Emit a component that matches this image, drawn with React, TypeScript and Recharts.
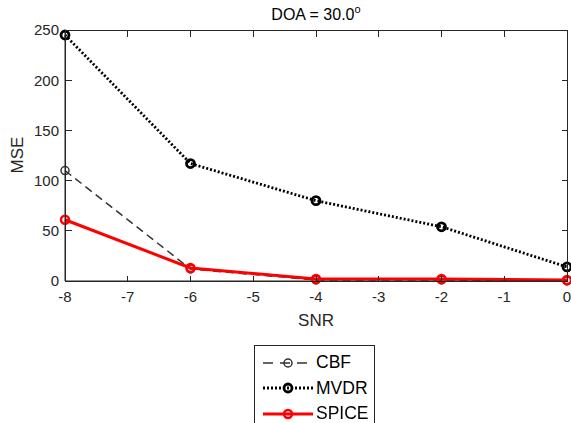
import { LineChart, Line, XAxis, YAxis, Legend } from "recharts";

const SNR = [-8, -6, -4, -2, 0];
const CBF = [110, 12, 1, 1, 0];
const MVDR = [245, 117, 80, 54, 14];
const SPICE = [61, 13, 2, 2, 1];
const X_TICKS = [-8, -7, -6, -5, -4, -3, -2, -1, 0];
const Y_TICKS = [0, 50, 100, 150, 200, 250];
const X_DOMAIN = [-8, 0];
const Y_DOMAIN = [0, 250];

const W = 571;
const H = 423;
const MARGIN = { top: 30, right: 4, bottom: 97, left: 0 };
const Y_AXIS_W = 65;
const X_AXIS_H = 45;
// plot area that recharts gets from the margins above
const PLOT = {
  x: MARGIN.left + Y_AXIS_W,
  y: MARGIN.top,
  w: W - MARGIN.left - MARGIN.right - Y_AXIS_W,
  h: H - MARGIN.top - MARGIN.bottom - X_AXIS_H,
};

const FONT = "'Liberation Sans', Arial, sans-serif";
const AXIS = "#262626";
const TICK = 6;

const SERIES = [
  { key: "CBF", color: "#333333", width: 1.5, dash: "8 5", dotWidth: 1.5 },
  { key: "MVDR", color: "#000000", width: 2.8, dash: "2 2", dotWidth: 2.8 },
  { key: "SPICE", color: "#ff0000", width: 3, dash: undefined, dotWidth: 2.5 },
];

const data = SNR.map((snr, i) => ({
  snr,
  CBF: CBF[i],
  MVDR: MVDR[i],
  SPICE: SPICE[i],
}));

const sx = (v: number) => PLOT.x + ((v - X_DOMAIN[0]) / (X_DOMAIN[1] - X_DOMAIN[0])) * PLOT.w;
const sy = (v: number) => PLOT.y + PLOT.h - ((v - Y_DOMAIN[0]) / (Y_DOMAIN[1] - Y_DOMAIN[0])) * PLOT.h;

// MATLAB-style box with inward ticks on all four sides
function Frame() {
  const top = PLOT.y + 0.5;
  const bottom = PLOT.y + PLOT.h + 0.5;
  const left = PLOT.x + 0.5;
  const right = PLOT.x + PLOT.w + 0.5;
  return (
    <svg
      width={W}
      height={H}
      style={{ position: "absolute", left: 0, top: 0, pointerEvents: "none" }}
    >
      <g stroke={AXIS} strokeWidth={1} fill="none" shapeRendering="crispEdges">
        <rect x={left} y={top} width={right - left} height={bottom - top} />
        {X_TICKS.map((t) => (
          <g key={`x${t}`}>
            <line x1={sx(t)} x2={sx(t)} y1={bottom} y2={bottom - TICK} />
            <line x1={sx(t)} x2={sx(t)} y1={top} y2={top + TICK} />
          </g>
        ))}
        {Y_TICKS.map((t) => (
          <g key={`y${t}`}>
            <line x1={left} x2={left + TICK} y1={sy(t)} y2={sy(t)} />
            <line x1={right} x2={right - TICK} y1={sy(t)} y2={sy(t)} />
          </g>
        ))}
      </g>
    </svg>
  );
}

function LegendBox() {
  return (
    <div
      style={{
        border: "1px solid #262626",
        background: "#fff",
        width: 121,
        height: 90,
        boxSizing: "border-box",
        paddingTop: 4,
        fontFamily: FONT,
        fontSize: 17.5,
        color: "#000",
      }}
    >
      {SERIES.map((s) => (
        <div key={s.key} style={{ display: "flex", alignItems: "center", height: 25.5 }}>
          <svg width={61} height={20} style={{ flex: "none" }}>
            <line
              x1={8}
              x2={58}
              y1={10}
              y2={10}
              stroke={s.color}
              strokeWidth={s.width}
              strokeDasharray={s.dash === "8 5" ? "10 7" : s.dash}
            />
            <circle cx={33} cy={10} r={4} fill="none" stroke={s.color} strokeWidth={s.dotWidth} />
          </svg>
          <span>{s.key}</span>
        </div>
      ))}
    </div>
  );
}

export default function App() {
  return (
    <div style={{ position: "fixed", left: 0, top: 0, width: W, height: H, background: "#fff" }}>
      <LineChart width={W} height={H} data={data} margin={MARGIN}>
        <XAxis
          dataKey="snr"
          type="number"
          domain={X_DOMAIN}
          ticks={X_TICKS}
          height={X_AXIS_H}
          stroke={AXIS}
          tickLine={false}
          tickSize={-6}
          tickMargin={16}
          tick={{ fill: AXIS, fontSize: 15, fontFamily: FONT }}
          label={{
            content: () => (
              <g>
                <text x={316} y={326} textAnchor="middle" fill={AXIS} fontSize={17} fontFamily={FONT}>
                  SNR
                </text>
                <text x={316} y={20} textAnchor="middle" fill="#000" fontSize={16} fontFamily={FONT}>
                  DOA = 30.0
                  <tspan dy={-7} fontSize={11}>o</tspan>
                </text>
              </g>
            ),
          }}
        />
        <YAxis
          type="number"
          domain={Y_DOMAIN}
          ticks={Y_TICKS}
          width={Y_AXIS_W}
          stroke={AXIS}
          tickLine={false}
          tickSize={-6}
          tickMargin={12}
          tick={{ fill: AXIS, fontSize: 15, fontFamily: FONT }}
          label={{
            content: () => (
              <text
                x={19}
                y={155}
                textAnchor="middle"
                fill={AXIS}
                fontSize={17}
                fontFamily={FONT}
                transform="rotate(-90 19 155)"
                dominantBaseline="middle"
              >
                MSE
              </text>
            ),
          }}
        />
        {SERIES.map((s) => (
          <Line
            key={s.key}
            dataKey={s.key}
            stroke={s.color}
            strokeWidth={s.width}
            strokeDasharray={s.dash}
            dot={{ r: 4, fill: "none", stroke: s.color, strokeWidth: s.dotWidth, strokeDasharray: "" }}
            activeDot={false}
            isAnimationActive={false}
          />
        ))}
        <Legend
          layout="horizontal"
          verticalAlign="middle"
          align="center"
          content={() => <LegendBox />}
          wrapperStyle={{ left: 254, top: 345, width: 121, height: 90 }}
        />
      </LineChart>
      <Frame />
    </div>
  );
}
